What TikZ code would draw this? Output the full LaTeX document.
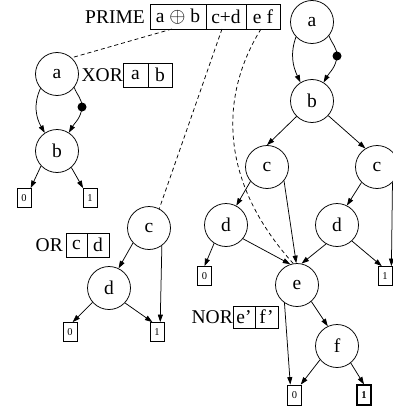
\documentclass[tikz,border=0pt]{standalone}
\usepackage{fontspec}
\setmainfont{Liberation Serif}
\usetikzlibrary{arrows.meta}
\begin{document}
\begin{tikzpicture}[x=1pt,y=1pt,
  every node/.style={font=\fontsize{19.5}{22}\selectfont},
  bddnode/.style={circle,draw,line width=0.75pt,minimum size=43pt,inner sep=0pt},
  term/.style={rectangle,draw,line width=0.75pt,minimum width=14pt,minimum height=19pt,inner sep=0pt,font=\fontsize{10.5}{12}\selectfont},
  cell/.style={rectangle,draw,line width=0.75pt,minimum height=24pt,inner sep=0pt},
  lbl/.style={inner sep=0pt,anchor=east},
  arr/.style={line width=0.75pt,-{Triangle[length=7.5pt,width=5pt]}},
  plain/.style={line width=0.75pt},
  dashlink/.style={line width=0.75pt,dash pattern=on 4pt off 3pt},
  blackdot/.style={circle,fill,inner sep=0pt,minimum size=9pt}
]
\clip (0,0) rectangle (393,-412);
\useasboundingbox (0,0) rectangle (393,-412);

% ---------- PRIME header ----------
\node[lbl] (prime) at (145,-17) {PRIME};
\node[cell,minimum width=56pt,minimum height=25pt] (c1) at (178,-16.5) {a $\oplus$ b};
\node[cell,minimum width=40pt,minimum height=25pt] (c2) at (226,-16.5) {c+d};
\node[cell,minimum width=34pt,minimum height=25pt] (c3) at (263,-16.5) {e f};

% ---------- XOR part ----------
\node[lbl] (xor) at (123,-75) {XOR};
\node[cell,minimum width=25pt] (xa) at (135.5,-75) {a};
\node[cell,minimum width=24pt] (xb) at (160,-75) {b};
\node[bddnode] (la) at (57,-74) {a};
\node[bddnode] (lb) at (57,-151) {b};
\node[term] (lt0) at (24,-198) {0};
\node[term] (lt1) at (90,-198) {1};
\node[blackdot] (ldot) at (82,-107) {};
\draw[arr] (la.221) to[out=245,in=120] (lb.124);
\draw[plain] (la.-38) to[out=-70,in=90] (ldot.center);
\draw[arr] (ldot.center) to[out=-95,in=60] (lb.57);
\draw[arr] (lb.223) -- (lt0.56);
\draw[arr] (lb.-49) -- (lt1.125);

% ---------- OR part ----------
\node[lbl] (orl) at (63,-245) {OR};
\node[cell,minimum width=21pt] (oca) at (76.5,-245) {c};
\node[cell,minimum width=22pt] (ocb) at (98,-245) {d};
\node[bddnode] (oc) at (149,-228) {c};
\node[bddnode] (od) at (109,-288) {d};
\node[term] (ot0) at (70,-332) {0};
\node[term] (ot1) at (157,-332) {1};
\draw[arr] (oc.223) -- (od.64);
\draw[arr] (oc.-54) -- (ot1.72);
\draw[arr] (od.221) -- (ot0.75);
\draw[arr] (od.-43) -- (ot1.115);

% ---------- main BDD ----------
\node[bddnode] (ra) at (312,-22) {a};
\node[bddnode] (rb) at (312,-101) {b};
\node[bddnode] (rcL) at (267,-167) {c};
\node[bddnode] (rcR) at (377,-167) {c};
\node[bddnode] (rdL) at (226,-225) {d};
\node[bddnode] (rdR) at (337,-225) {d};
\node[bddnode] (re) at (297,-285) {e};
\node[bddnode] (rf) at (337,-346) {f};
\node[term] (rt0a) at (204.5,-276) {0};
\node[term] (rt1a) at (385,-276) {1};
\node[term,minimum height=20pt] (rt0b) at (294.5,-395) {0};
\node[term,minimum height=20pt,line width=1.2pt] (rt1b) at (364,-395) {\textbf{1}};
\node[blackdot] (rdot) at (337,-56) {};

\node[lbl] (nor) at (233,-317) {NOR};
\node[cell,minimum width=22pt,minimum height=22pt] (ne) at (244,-317) {e’};
\node[cell,minimum width=23pt,minimum height=22pt] (nf) at (266.5,-317) {f’};

\draw[arr] (ra.223) to[out=250,in=115] (rb.122);
\draw[plain] (ra.-39) to[out=-70,in=90] (rdot.center);
\draw[arr] (rdot.center) to[out=-95,in=60] (rb.58);
\draw[arr] (rb.225) -- (rcL.north);
\draw[arr] (rb.-42) -- (rcR.122);
\draw[arr] (rcL.221) -- (rdL.62);
\draw[arr] (rcL.-39) -- (re.92);
\draw[arr] (rcR.225) -- (rdR.63);
\draw[arr] (rcR.-45) -- (rt1a.57);
\draw[arr] (rdL.237) -- (rt0a.north);
\draw[arr] (rdL.-39) -- (re.108);
\draw[arr] (rdR.240) -- (re.78);
\draw[arr] (rdR.-47) -- (rt1a.108);
\draw[arr] (re.235) -- (rt0b.112);
\draw[arr] (re.-49) -- (rf.115);
\draw[arr] (rf.219) -- (rt0b.59);
\draw[arr] (rf.-51) -- (rt1b.north);

% ---------- dashed links ----------
\coordinate (s1) at (172,-29);
\coordinate (s2) at (222,-29);
\coordinate (s3) at (261,-29);
\draw[dashlink] (s1) -- (la.48);
\draw[dashlink] (s2) -- (oc.62);
\draw[dashlink] (s3) .. controls (220,-95) and (218,-180) .. (re.100);
\end{tikzpicture}
\end{document}
